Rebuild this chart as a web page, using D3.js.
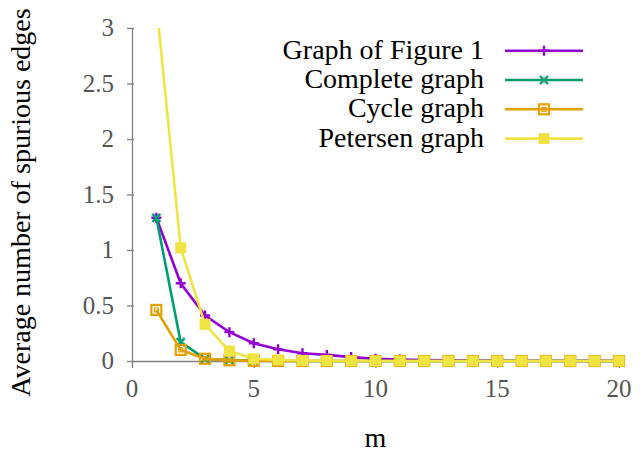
<!DOCTYPE html>
<html>
<head>
<meta charset="utf-8">
<script src="https://cdn.jsdelivr.net/npm/d3@7"></script>
</head>
<body style="margin:0">
<div id="chart-div"></div>
<script>
// Script globals
const CHART_WIDTH = 642
const CHART_HEIGHT = 454
const FONT = "Liberation Serif"

// chart data, m = 1..20
const mValues = d3.range(1, 21)
const seriesNames = ["Graph of Figure 1", "Complete graph", "Cycle graph", "Petersen graph"]
const figure1Values = [1.29, 0.70, 0.41, 0.26, 0.16, 0.105, 0.07, 0.055, 0.035, 0.02, 0.013, 0.009, 0.006, 0.004, 0.003, 0.002, 0.002, 0.001, 0.001, 0.001]
const completeValues = [1.29, 0.17, 0.02, 0.008, 0.003, 0.001, 0, 0, 0, 0, 0, 0, 0, 0, 0, 0, 0, 0, 0, 0]
const cycleValues = [0.46, 0.10, 0.02, 0.006, 0.002, 0, 0, 0, 0, 0, 0, 0, 0, 0, 0, 0, 0, 0, 0, 0]
const petersenValues = [3.22, 1.02, 0.33, 0.09, 0.02, 0.01, 0.004, 0.002, 0, 0, 0, 0, 0, 0, 0, 0, 0, 0, 0, 0]
const xTickValues = [0, 5, 10, 15, 20]
const yTickValues = [0, 0.5, 1, 1.5, 2, 2.5, 3]

const colors = ["#9400d3", "#009e73", "#e69f00", "#f0e442"]
const markers = ["plus", "cross", "openSquare", "filledSquare"]

init();

function init () {
  const svg = d3.select("#chart-div").append("svg")
    .attr("width", CHART_WIDTH)
    .attr("height", CHART_HEIGHT)
    .attr("font-family", FONT)

  const marginLeft = 132
  const marginRight = 23
  const marginTop = 28
  const marginBottom = 93

  const x = d3.scaleLinear()
    .domain([0, 20])
    .range([marginLeft, CHART_WIDTH - marginRight])

  const y = d3.scaleLinear()
    .domain([0, 3])
    .range([CHART_HEIGHT - marginBottom, marginTop])

  // tick labels drawn as plain texts
  const xAxis = svg.append("g")
    .attr("transform", `translate(0,${y(0)})`)
    .call(d3.axisBottom(x).tickValues(xTickValues).tickSize(7).tickFormat("").tickSizeOuter(0))
  const yAxis = svg.append("g")
    .attr("transform", `translate(${marginLeft},0)`)
    .call(d3.axisLeft(y).tickValues(yTickValues).tickSize(6).tickFormat("").tickSizeOuter(0))

  for (let ax of [xAxis, yAxis]) {
    ax.attr("font-family", FONT)
    ax.select(".domain").attr("stroke", "#808080").attr("stroke-width", 1.3)
    ax.selectAll(".tick line").attr("stroke", "#808080").attr("stroke-width", 1.3)
  }
  yAxis.selectAll(".tick line").attr("x2", 2).attr("x1", -5)

  svg.selectAll("text.xtick")
    .data(xTickValues)
    .join("text")
    .attr("class", "xtick")
    .attr("x", d => x(d))
    .attr("y", y(0) + 36)
    .attr("text-anchor", "middle")
    .attr("font-family", FONT)
    .attr("font-size", 25)
    .attr("fill", "#555")
    .text(d => d)

  svg.selectAll("text.ytick")
    .data(yTickValues)
    .join("text")
    .attr("class", "ytick")
    .attr("x", marginLeft - 18)
    .attr("y", d => y(d) + 8)
    .attr("text-anchor", "end")
    .attr("font-family", FONT)
    .attr("font-size", 25)
    .attr("fill", "#555")
    .text(d => d)

  // axis labels
  svg.append("text")
    .attr("x", x(10))
    .attr("y", 447)
    .attr("text-anchor", "middle")
    .attr("font-family", FONT)
    .attr("font-size", 28)
    .text("m")

  svg.append("text")
    .attr("transform", `translate(30,${(marginTop + y(0)) / 2 + 8}) rotate(-90)`)
    .attr("text-anchor", "middle")
    .attr("font-family", FONT)
    .attr("font-size", 28)
    .text("Average number of spurious edges")

  // nested svg viewport clips the lines at the top of the plot
  const plot = svg.append("svg")
    .attr("x", 0).attr("y", marginTop)
    .attr("width", CHART_WIDTH)
    .attr("height", CHART_HEIGHT - marginTop)
    .attr("viewBox", `0 ${marginTop} ${CHART_WIDTH} ${CHART_HEIGHT - marginTop}`)

  const allValues = [figure1Values, completeValues, cycleValues, petersenValues]
  const line = d3.line()
    .x((d, i) => x(mValues[i]))
    .y(d => y(d))

  allValues.forEach((values, s) => {
    const g = plot.append("g")
    g.append("path")
      .datum(values)
      .attr("fill", "none")
      .attr("stroke", colors[s])
      .attr("stroke-width", 2.6)
      .attr("d", line)
    values.forEach((v, i) => {
      drawMarker(g, markers[s], x(mValues[i]), y(v), colors[s])
    })
  })

  // legend
  seriesNames.forEach((name, s) => {
    const ly = 50.7 + s * 29.3
    svg.append("text")
      .attr("x", 484)
      .attr("y", ly + 8)
      .attr("text-anchor", "end")
      .attr("font-family", FONT)
      .attr("font-size", 28)
      .text(name)
    svg.append("line")
      .attr("x1", 505).attr("x2", 583)
      .attr("y1", ly).attr("y2", ly)
      .attr("stroke", colors[s])
      .attr("stroke-width", 2.6)
    drawMarker(svg, markers[s], 544, ly, colors[s])
  })
}

/**
 * draw a gnuplot-like point marker
 */
function drawMarker (g, type, cx, cy, color) {
  const r = 5
  if (type === "plus") {
    g.append("path")
      .attr("d", `M${cx - r},${cy}H${cx + r}M${cx},${cy - r}V${cy + r}`)
      .attr("stroke", color).attr("stroke-width", 2.4)
  } else if (type === "cross") {
    const c = 4
    g.append("path")
      .attr("d", `M${cx - c},${cy - c}L${cx + c},${cy + c}M${cx - c},${cy + c}L${cx + c},${cy - c}`)
      .attr("stroke", color).attr("stroke-width", 2.4)
  } else if (type === "openSquare") {
    g.append("rect")
      .attr("x", cx - r).attr("y", cy - r)
      .attr("width", 2 * r).attr("height", 2 * r)
      .attr("fill", "none").attr("stroke", color).attr("stroke-width", 2.2)
    g.append("rect")
      .attr("x", cx - 2).attr("y", cy - 2)
      .attr("width", 4).attr("height", 4)
      .attr("fill", "none").attr("stroke", color).attr("stroke-width", 1.2)
  } else {
    g.append("rect")
      .attr("x", cx - 5.5).attr("y", cy - 5.5)
      .attr("width", 11).attr("height", 11)
      .attr("fill", color)
  }
}
</script>
</body>
</html>
